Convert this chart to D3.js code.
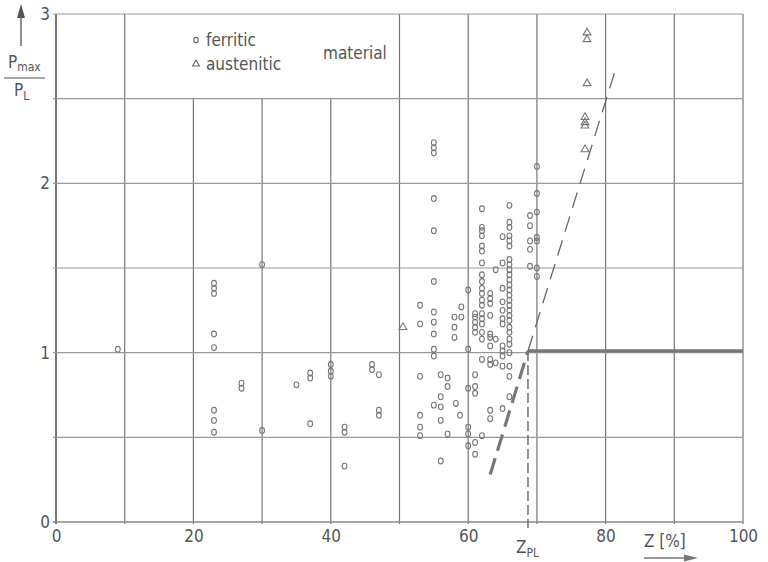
<!DOCTYPE html>
<html><head><meta charset="utf-8">
<script src="https://cdn.jsdelivr.net/npm/d3@7"></script>
<style>
html,body{margin:0;padding:0;background:#fff;}
text{font-family:"DejaVu Sans Condensed","Liberation Sans Narrow","DejaVu Sans",sans-serif;fill:#555;}
</style></head>
<body><svg id="c" width="768" height="562"></svg>
<script>
const xTicks = [0, 20, 40, 60, 80, 100];
const yTicks = [0, 1, 2, 3];
const xGrid = [0, 10, 20, 30, 40, 50, 60, 70, 80, 90, 100];
const yGrid = [0, 0.5, 1, 1.5, 2, 2.5, 3];
const legendGap = [20, 30, 40];
const zPL = 68.7;
const limitLevel = 1.01;
const thickDash = [[63.2, 0.28], [68.7, 1.01]];
const thinDash = [[68.7, 1.01], [81.5, 2.68]];
const ferritic = [
 [9,1.02],
 [23,1.41],[23,1.38],[23,1.35],[23,1.11],[23,1.03],[23,0.66],[23,0.60],[23,0.53],
 [27,0.82],[27,0.79],[30,1.52],[30,0.54],[35,0.81],
 [37,0.88],[37,0.85],[37,0.58],[40,0.93],[40,0.89],[40,0.86],
 [42,0.56],[42,0.53],[42,0.33],[46,0.93],[46,0.90],[47,0.87],[47,0.66],[47,0.63],
 [53,1.28],[53,1.17],[53,0.86],[53,0.63],[53,0.56],[53,0.51],
 [55,2.24],[55,2.21],[55,2.18],[55,1.91],[55,1.72],[55,1.42],[55,1.24],[55,1.18],[55,1.11],[55,1.02],[55,0.98],[55,0.69],
 [56,0.87],[56,0.74],[56,0.68],[56,0.60],[56,0.36],[57,0.85],[57,0.80],[57,0.52],
 [58,1.21],[58,1.15],[58,1.09],[58.2,0.70],[58.8,0.63],[59,1.27],[59,1.21],
 [60,1.37],[60,1.02],[60,0.79],[60,0.56],[60,0.52],[60,0.45],
 [61,1.23],[61,1.21],[61,1.18],[61,1.15],[61,1.12],[61,0.87],[61,0.80],[61,0.76],[61,0.47],[61,0.40],
 [62,1.85],[62,1.74],[62,1.72],[62,1.69],[62,1.63],[62,1.60],[62,1.53],[62,1.46],[62,1.42],[62,1.38],[62,1.35],[62,1.31],[62,1.28],[62,1.23],[62,1.20],[62,1.17],[62,1.12],[62,1.08],[62,0.96],[62,0.51],
 [63.2,1.35],[63.2,1.32],[63.2,1.29],[63.2,1.22],[63.2,1.11],[63.2,1.09],[63.2,1.04],[63.2,0.96],[63.2,0.93],[63.2,0.66],[63.2,0.61],
 [64,1.49],[64,1.08],[64,0.94],
 [65,1.53],[65,1.685],[65,1.38],[65,1.30],[65,1.25],[65,1.20],[65,1.17],[65,1.04],[65,1.01],[65,0.98],[65,0.92],[65,0.67],
 [66,1.87],[66,1.77],[66,1.74],[66,1.69],[66,1.66],[66,1.63],[66,1.55],[66,1.52],[66,1.49],[66,1.46],[66,1.43],[66,1.40],[66,1.37],[66,1.34],[66,1.31],[66,1.28],[66,1.25],[66,1.22],[66,1.19],[66,1.15],[66,1.12],[66,1.08],[66,1.05],[66,1.00],[66,0.92],[66,0.86],[66,0.74],
 [69,1.81],[69,1.75],[69,1.66],[69,1.61],[69,1.51],
 [70,2.10],[70,1.94],[70,1.83],[70,1.68],[70,1.66],[70,1.50],[70,1.45]
];
const austenitic = [[50.5,1.15],[77.3,2.89],[77.3,2.85],[77.3,2.59],[77,2.39],[77,2.36],[77,2.34],[77,2.20]];

const svg = d3.select("#c");
const x = d3.scaleLinear().domain([0,100]).range([56,743]);
const y = d3.scaleLinear().domain([0,3]).range([522,14]);

// grid
svg.append("g").selectAll("line").data(xGrid).join("line")
  .attr("x1",d=>x(d)).attr("x2",d=>x(d))
  .attr("y1",d=>legendGap.includes(d)?y(2.5):y(3)).attr("y2",y(0)+2)
  .attr("stroke",d=>d===0?"#555":"#777").attr("stroke-width",d=>d===0?1.6:1.2);
svg.append("g").selectAll("line").data(yGrid).join("line")
  .attr("x1",x(0)-3).attr("x2",x(100)).attr("y1",d=>y(d)).attr("y2",d=>y(d))
  .attr("stroke",d=>d===0?"#888":"#999").attr("stroke-width",d=>d===0?1.6:1.2);

// axes labels
const xAxis = d3.axisBottom(x).tickValues(xTicks).tickFormat(d3.format("d")).tickSize(0).tickPadding(8);
const gx = svg.append("g").attr("transform",`translate(0,${y(0)})`).call(xAxis);
gx.select(".domain").remove();
gx.selectAll("text").style("font-size","17px").attr("fill","#555");
const yAxis = d3.axisLeft(y).tickValues(yTicks).tickFormat(d3.format("d")).tickSize(0).tickPadding(6);
const gy = svg.append("g").attr("transform",`translate(${x(0)},0)`).call(yAxis);
gy.select(".domain").remove();
gy.selectAll("text").style("font-size","17px").attr("fill","#555");

// limit lines
svg.append("line").attr("x1",x(zPL)).attr("x2",x(zPL)).attr("y1",y(limitLevel)).attr("y2",y(0)+6)
  .attr("stroke","#666").attr("stroke-width",1.4).attr("stroke-dasharray","10,4");
svg.append("line").attr("x1",x(zPL)).attr("x2",x(100)).attr("y1",y(limitLevel)).attr("y2",y(limitLevel))
  .attr("stroke","#777").attr("stroke-width",3.2);
const line = d3.line().x(d=>x(d[0])).y(d=>y(d[1]));
svg.append("path").attr("d",line(thickDash)).attr("fill","none").attr("stroke","#777")
  .attr("stroke-width",3.2).attr("stroke-dasharray","17,8");
svg.append("path").attr("d",line(thinDash)).attr("fill","none").attr("stroke","#666")
  .attr("stroke-width",1.3).attr("stroke-dasharray","16,9");

// points
svg.append("g").selectAll("ellipse").data(ferritic).join("ellipse")
  .attr("cx",d=>x(d[0])).attr("cy",d=>y(d[1])).attr("rx",2.4).attr("ry",2.9)
  .attr("fill","none").attr("stroke","#777").attr("stroke-width",1.1);
const tri = d3.symbol().type(d3.symbolTriangle).size(26);
svg.append("g").selectAll("path").data(austenitic).join("path")
  .attr("transform",d=>`translate(${x(d[0])},${y(d[1])})`).attr("d",tri)
  .attr("fill","none").attr("stroke","#777").attr("stroke-width",1.1);

// legend
svg.append("ellipse").attr("cx",196).attr("cy",40).attr("rx",2.2).attr("ry",2.6).attr("fill","none").attr("stroke","#666").attr("stroke-width",1.1);
svg.append("text").attr("x",206).attr("y",46).style("font-size","17px").text("ferritic");
svg.append("path").attr("transform","translate(196,64)").attr("d",d3.symbol().type(d3.symbolTriangle).size(20)).attr("fill","none").attr("stroke","#666").attr("stroke-width",1.1);
svg.append("text").attr("x",206).attr("y",70).style("font-size","17px").text("austenitic");
svg.append("text").attr("x",323).attr("y",59).style("font-size","17px").text("material");

// y-axis title
svg.append("line").attr("x1",21).attr("x2",21).attr("y1",46).attr("y2",16).attr("stroke","#555").attr("stroke-width",1.3);
svg.append("path").attr("d","M17,18 L21,4 L25,18 Z").attr("fill","#555");
const pm = svg.append("text").attr("x",8).attr("y",68).style("font-size","17px");
pm.append("tspan").text("P");
pm.append("tspan").attr("dy",3).style("font-size","12px").text("max");
svg.append("line").attr("x1",4).attr("x2",45).attr("y1",78).attr("y2",78).attr("stroke","#555").attr("stroke-width",1.2);
const pl = svg.append("text").attr("x",14).attr("y",96).style("font-size","17px");
pl.append("tspan").text("P");
pl.append("tspan").attr("dy",4).style("font-size","12px").text("L");

// x-axis extras
const zl = svg.append("text").attr("x",x(zPL)-12).attr("y",553).style("font-size","17px");
zl.append("tspan").text("Z");
zl.append("tspan").attr("dy",4).style("font-size","12px").text("PL");
svg.append("text").attr("x",644).attr("y",547).style("font-size","17px").text("Z  [%]");
svg.append("line").attr("x1",644).attr("x2",688).attr("y1",558).attr("y2",558).attr("stroke","#777").attr("stroke-width",1.3);
svg.append("path").attr("d","M684,554.5 L698,558 L684,561.5 Z").attr("fill","#777");
</script></body></html>
